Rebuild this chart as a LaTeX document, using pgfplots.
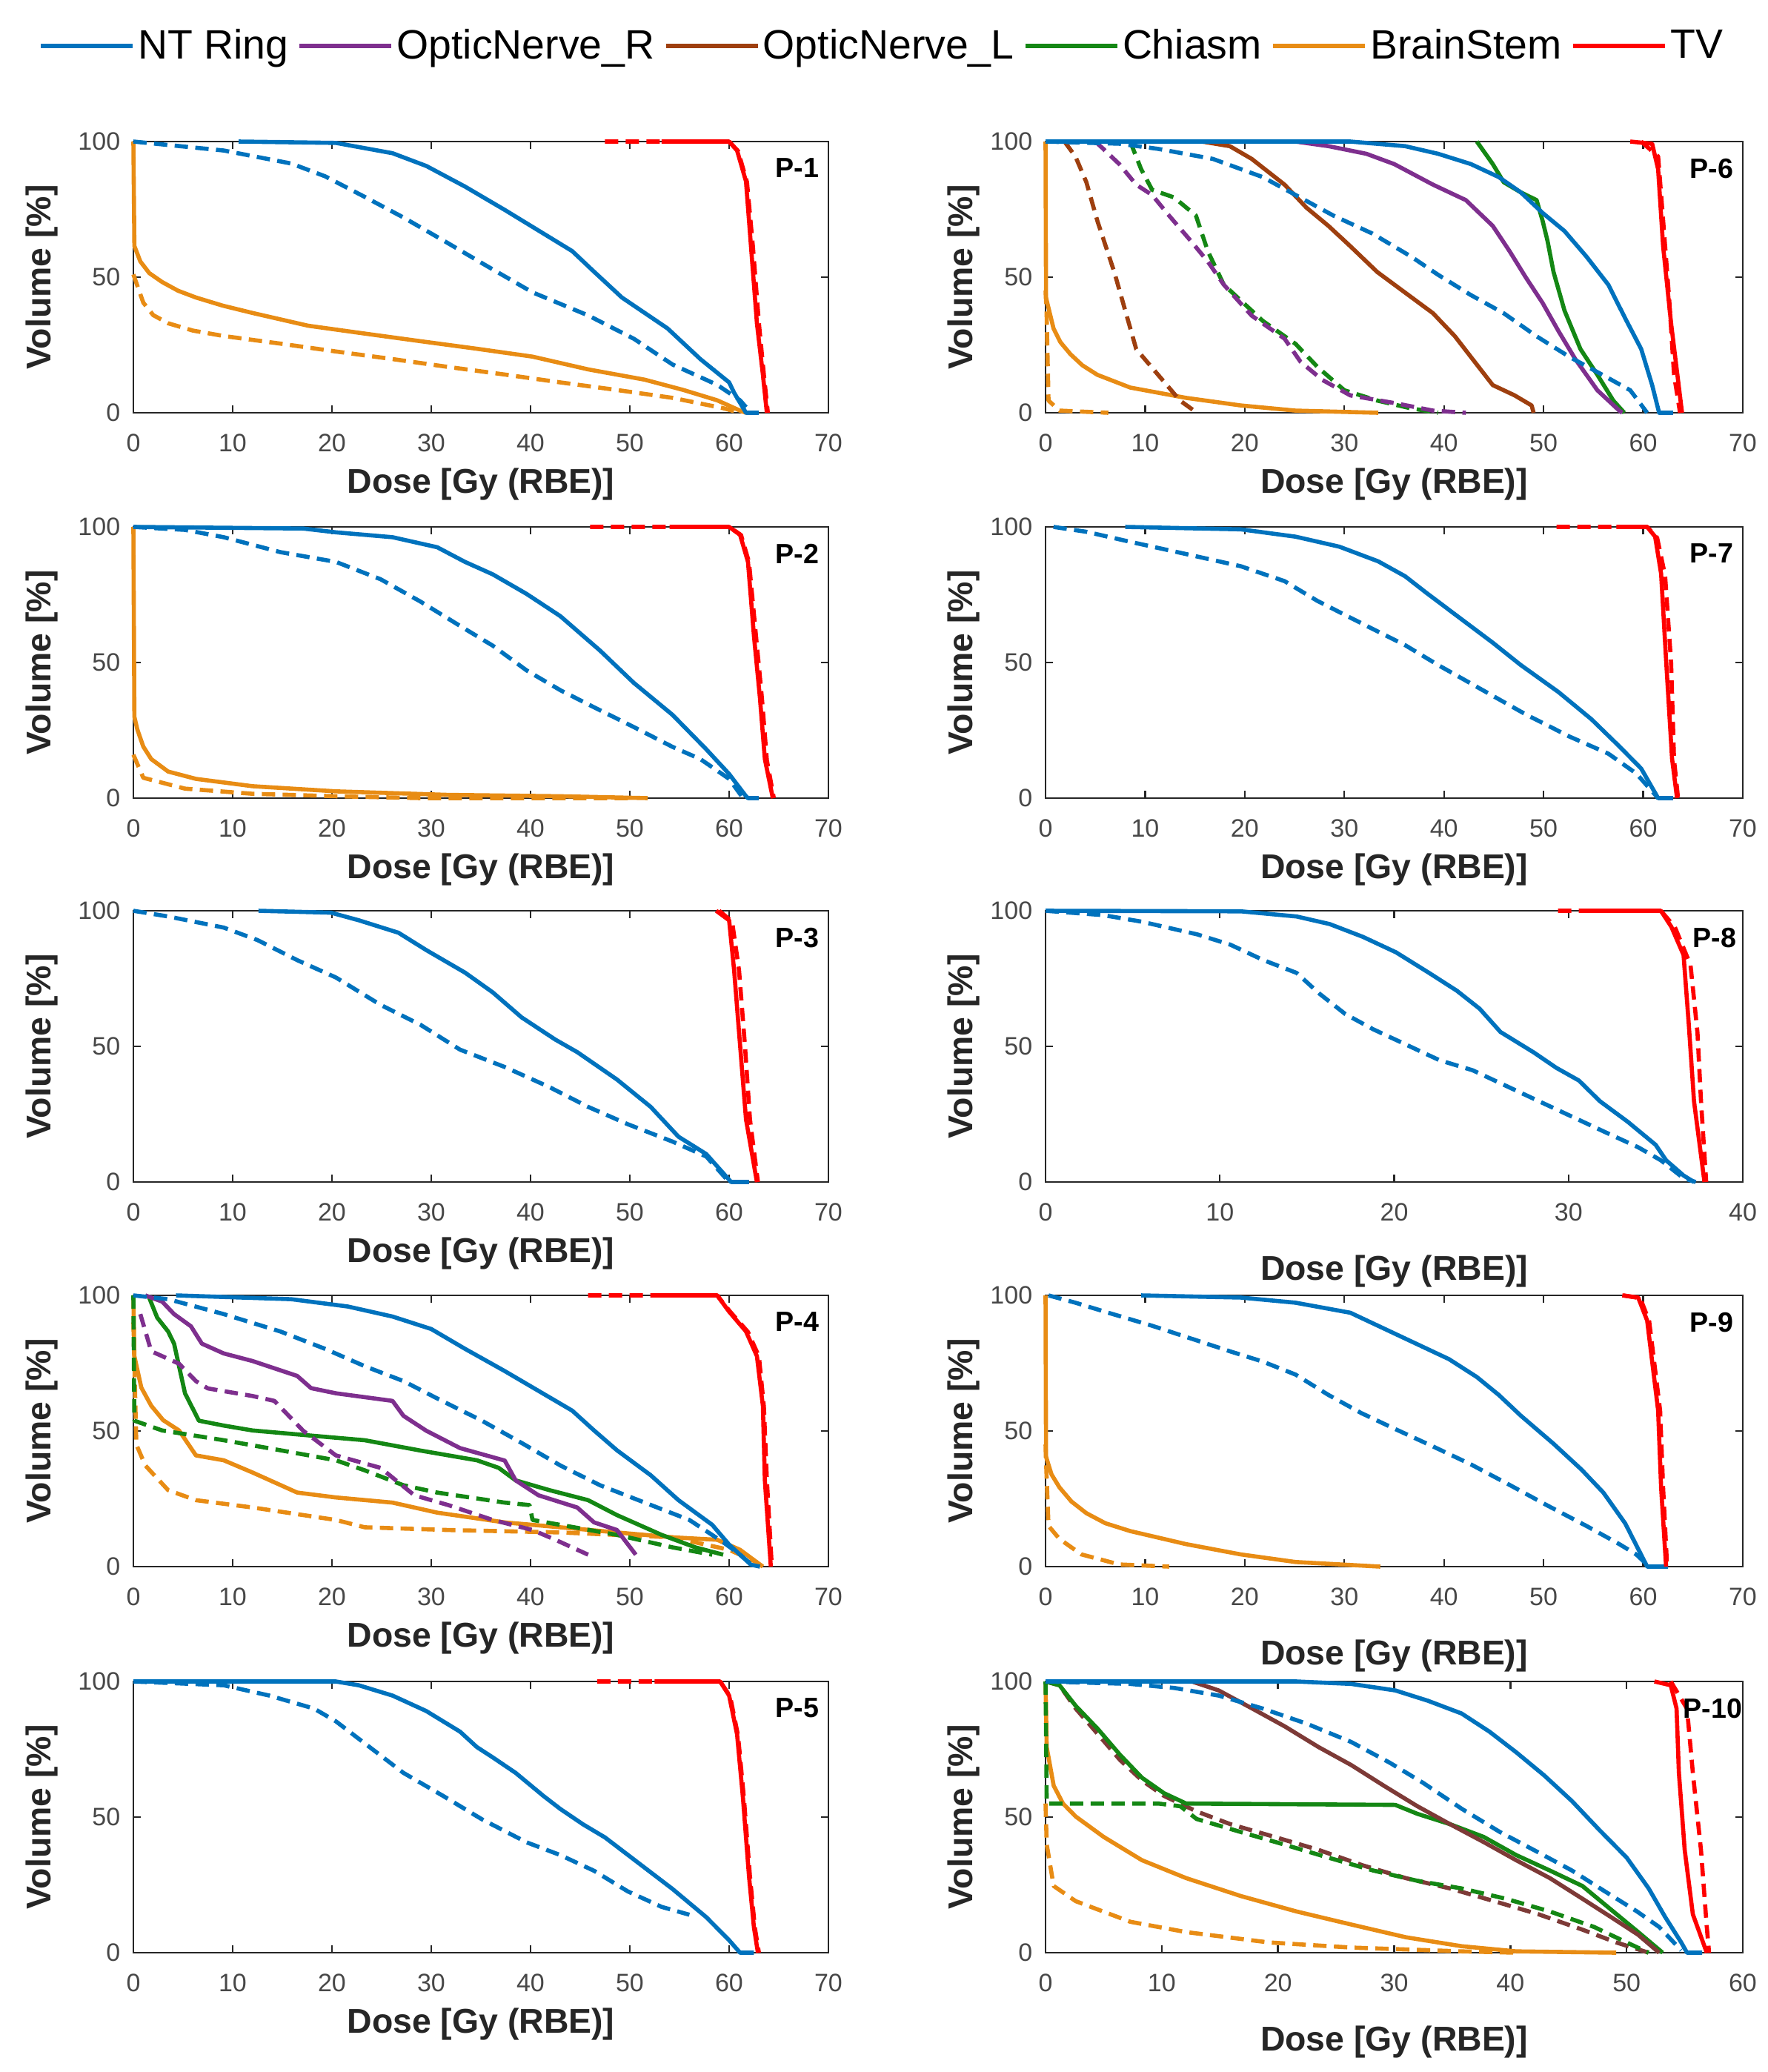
\documentclass[border=0pt]{standalone}
\usepackage{fontspec}
\setmainfont{Liberation Sans}
\usepackage{pgfplots}
\pgfplotsset{compat=1.18}

\definecolor{ntblue}{RGB}{0,114,189}
\definecolor{onrpurple}{RGB}{126,47,142}
\definecolor{onlbrown}{RGB}{158,63,15}
\definecolor{onlbrownb}{RGB}{125,58,55}
\definecolor{chiasmgreen}{RGB}{20,135,20}
\definecolor{bsorange}{RGB}{232,140,20}
\definecolor{tvred}{RGB}{255,0,0}
\definecolor{axgray}{RGB}{38,38,38}

\pgfplotsset{
  dv/.style={line width=1.4pt, line join=round},
  dsh/.style={dash pattern=on 4.5pt off 2.5pt},
  dvh/.style={
    scale only axis, height=91.5pt, anchor=south west,
    xmin=0, xmax=70, ymin=0, ymax=100, ytick={0,50,100}, xtick distance=10,
    clip=false, tick align=inside, major tick length=2.5pt,
    axis line style={axgray, line width=0.6pt},
    every tick/.style={axgray, line width=0.6pt},
    /pgf/number format/assume math mode=true,
    tick label style={font=\fontsize{8.5}{10}\selectfont, text=black!72},
    xticklabel style={anchor=north, inner sep=0pt, yshift=-7pt},
    yticklabel style={anchor=east, inner sep=0pt, xshift=-4.25pt},
    xlabel={Dose [Gy (RBE)]}, ylabel={Volume [\%]},
    label style={font=\bfseries\fontsize{11.6}{13}\selectfont, text=axgray},
    xlabel style={at={([yshift=-24pt]axis description cs:0.5,0)}, anchor=center},
  },
  leftcol/.style={dvh, width=234.5pt,
    ylabel style={at={([xshift=-30.75pt]axis description cs:0,0.5)}, anchor=center}},
  rightcol/.style={dvh, width=235.25pt,
    ylabel style={at={([xshift=-27.75pt]axis description cs:0,0.5)}, anchor=center}},
  lowlabel/.style={xlabel style={at={([yshift=-30pt]axis description cs:0.5,0)}, anchor=center}},
}
\newcommand{\plabel}[2][-3pt]{\node[anchor=north east, inner sep=0pt, xshift=#1, yshift=-5.5pt,
  font=\bfseries\fontsize{9.4}{11}\selectfont, text=black] at (rel axis cs:1,1) {#2};}

\begin{document}
\begin{tikzpicture}
\useasboundingbox (0pt,0pt) rectangle (596.5pt,-699pt);

% ---------------- P-1 ----------------
\begin{axis}[leftcol, at={(45pt,-139.25pt)},
  legend style={draw=none, fill=none, at={(axis description cs:1.075,1.352)}, anchor=center,
    legend columns=6, font=\fontsize{13.85}{16}\selectfont, text=black,
    /tikz/every odd column/.append style={column sep=1pt},
    /tikz/every even column/.append style={column sep=3pt},
    nodes={inner sep=0pt}},
  legend image code/.code={\draw[#1, line width=1.6pt] (0pt,0pt) -- (31pt,0pt);}]
\addlegendimage{ntblue}\addlegendentry{NT Ring}
\addlegendimage{onrpurple}\addlegendentry{OpticNerve\_R}
\addlegendimage{onlbrown}\addlegendentry{OpticNerve\_L}
\addlegendimage{chiasmgreen}\addlegendentry{Chiasm}
\addlegendimage{bsorange}\addlegendentry{BrainStem}
\addlegendimage{tvred}\addlegendentry{TV}
\addplot[bsorange,dv] coordinates {(0,100)(0.1,61.5)(0.7,55.8)(1.6,51.5)(2.9,48.2)(4.5,45)(6.3,42.5)(9,39.5)(12,36.8)(17.6,32.1)(23.3,29.2)(28.9,26.4)(34.6,23.6)(40.2,20.7)(45.8,16)(51.5,12.2)(55.4,8.4)(58.8,4.6)(61.1,0.8)(61.7,0)};
\addplot[bsorange,dv,dsh] coordinates {(0,51)(1,40.6)(2,36)(3.5,33)(6,30.3)(9.1,28.3)(14.8,25.5)(20.4,22.6)(26.1,19.8)(31.7,16.9)(37.4,14.1)(43,11.2)(48.7,8.4)(54.3,5.5)(59.4,1.7)(61.1,0)};
\addplot[ntblue,dv] coordinates {(10.6,100)(20.4,99.5)(26.1,95.7)(29.5,91)(33.4,83.4)(37.4,74.8)(40.8,67.2)(44.2,59.6)(46.4,52)(49.2,42.5)(53.8,31.1)(57.1,19.8)(60,11.2)(60.5,7.4)(61.7,0)(63,0)};
\addplot[ntblue,dv,dsh] coordinates {(0,100)(9.1,96.7)(15.9,91.9)(19.3,87.2)(23.3,79.6)(27.2,72)(31.7,62.5)(35.7,53.9)(40.2,44.4)(45.8,35.9)(50.4,27.3)(54.3,17.8)(58.8,10.3)(61.1,4.6)(62.2,0)};
\addplot[tvred,dv,dsh] coordinates {(47.5,100)(60,100)(60.9,96.5)(61.8,85)(62.4,61)(63,33)(63.5,14)(63.9,0)};
\addplot[tvred,dv] coordinates {(53.2,100)(60,100)(60.8,96.7)(61.7,85.3)(62.2,61.5)(62.8,33)(63.4,14.1)(63.8,0)};
\plabel{P-1}
\end{axis}

% ---------------- P-2 ----------------
\begin{axis}[leftcol, at={(45pt,-269.25pt)}]
\addplot[bsorange,dv] coordinates {(0,100)(0.1,30)(0.4,25.3)(1,19)(1.8,14.4)(3.5,9.8)(6.3,7.1)(12,4.4)(20.4,2.5)(31.7,1.2)(43,0.7)(51.8,0)};
\addplot[bsorange,dv,dsh] coordinates {(0,16)(1,7.5)(5.2,3.5)(12,1.6)(20.4,0.7)(28.9,0)(50,0)};
\addplot[ntblue,dv] coordinates {(0,100)(17.1,99.4)(20.4,98)(26.1,96.2)(30.6,92.5)(33.4,87.1)(36.2,82.5)(39.6,75.3)(43,67.1)(47,54.4)(50.4,42.5)(54.3,30.7)(57.7,18)(60,8.9)(61.7,0.7)(61.9,0)(63,0)};
\addplot[ntblue,dv,dsh] coordinates {(0,100)(5.2,98.9)(9.1,96.2)(14.8,90.7)(20.4,87.1)(24.9,80.7)(28.9,72.5)(32.9,63.5)(36.2,56.2)(39.6,47.1)(43,39.8)(46.4,33.5)(50.4,26.2)(54.3,18.9)(57.1,14.4)(60,7.1)(61.4,0)};
\addplot[tvred,dv,dsh] coordinates {(46,100)(60,100)(61.2,97)(62,87)(62.7,60)(63.3,37)(63.8,14)(64.5,0)};
\addplot[tvred,dv] coordinates {(54,100)(60,100)(61.1,97.1)(61.9,87.1)(62.5,59.8)(63.1,37.1)(63.6,14.4)(64.4,0)};
\plabel{P-2}
\end{axis}

% ---------------- P-3 ----------------
\begin{axis}[leftcol, at={(45pt,-398.75pt)}]
\addplot[ntblue,dv] coordinates {(12.6,100)(19.9,99.3)(22.7,96.5)(26.7,91.9)(29.5,85.5)(33.4,77.2)(36.2,69.9)(39.1,60.7)(42.5,52.5)(44.7,47.9)(48.7,37.8)(52.1,27.7)(54.9,16.7)(57.7,10.3)(60.2,0)(62,0)};
\addplot[ntblue,dv,dsh] coordinates {(0,100)(3.5,97.9)(9.1,93.8)(12.5,89.2)(16.5,81.8)(20.4,75.4)(24.9,65.3)(28.9,58)(32.9,48.8)(37.4,42.4)(41.9,35)(45.8,27.7)(49.8,21.3)(54.3,14.9)(57.7,9.4)(60,0)};
\addplot[tvred,dv,dsh] coordinates {(59,100)(60.3,96)(61,78)(61.6,50)(62.1,23)(62.9,0)};
\addplot[tvred,dv] coordinates {(58.7,100)(60,96.5)(60.5,78.2)(61.1,50.6)(61.7,23.1)(62.8,0)};
\plabel{P-3}
\end{axis}

% ---------------- P-4 ----------------
\begin{axis}[leftcol, at={(45pt,-528.5pt)}]
\addplot[bsorange,dv] coordinates {(0,100)(0.1,77.6)(0.8,66)(1.8,59.3)(3,54)(4.6,50.2)(6.3,41)(9.1,39.2)(12,34.7)(16.5,27.3)(20.4,25.5)(26.1,23.6)(30.6,19.9)(37.4,16.3)(43,14.5)(48.7,12.6)(54.3,10.8)(58.8,9.9)(61.1,6.2)(62.8,1.6)(63.4,0)};
\addplot[bsorange,dv,dsh] coordinates {(0,90)(0.3,45)(1.2,37.3)(3.5,28.2)(6.3,24.5)(12,21.8)(20.4,17.2)(23.3,14.5)(31.7,13.5)(43,12.6)(54.3,10.8)(60,6.2)(62.8,1.6)};
\addplot[chiasmgreen,dv] coordinates {(1.5,100)(2.4,91.8)(3.5,86.7)(4.1,82.2)(5.2,63.9)(6.6,53.8)(9.1,52)(12,50.2)(17.6,48.4)(23.3,46.6)(28.9,42.8)(34.6,39.2)(36.8,36.4)(38.5,31.8)(41.9,28.2)(45.8,24.5)(48.7,19)(53.2,11.7)(56.6,7.1)(59.4,4.4)};
\addplot[chiasmgreen,dv,dsh] coordinates {(0,100)(0.1,53.8)(2.9,50.2)(9.1,46.6)(14.8,42.9)(20.4,39.2)(23.3,35.5)(27.2,30)(30.6,27.3)(37.4,23.6)(39.9,22.7)(40.2,17.2)(43,15.4)(48.7,11.7)(54.3,7.1)(58.3,4.4)};
\addplot[onrpurple,dv] coordinates {(1.2,100)(2.9,97.7)(4.1,93.1)(5.8,88.6)(6.9,82.2)(9.1,78.6)(12,75.8)(16.5,70.3)(17.9,65.8)(20.4,63.9)(26.1,61.1)(27.2,55.6)(29.5,50.1)(32.9,43.7)(37.4,39.1)(38.5,31.8)(40.8,26.3)(44.7,21.8)(46.4,16.3)(48.7,13.5)(50.6,4.4)};
\addplot[onrpurple,dv,dsh] coordinates {(0.7,93.1)(1.8,79.4)(4.6,74.8)(6.3,68.4)(7.5,65.7)(12,62.9)(14.2,61.1)(17.1,50.1)(20.4,41)(24.9,36.4)(28.3,26.3)(31.7,22.7)(36.2,17.2)(40.2,13.5)(42.5,9.9)(45.8,4.4)};
\addplot[ntblue,dv] coordinates {(4.3,100)(15.9,98.6)(21.6,95.9)(26.1,92.2)(30,87.6)(33.4,80.3)(37.4,72.1)(40.8,64.8)(44.2,57.5)(46.4,50.2)(48.7,42.9)(52.1,33.7)(54.9,24.5)(58.3,15.4)(60,8.1)(62.2,0.7)(63.1,0)};
\addplot[ntblue,dv,dsh] coordinates {(0,100)(3.5,98.6)(9.1,93.1)(14.8,86.7)(19.3,80.3)(23.3,73.9)(27.2,68.4)(30.6,62)(35.1,53.8)(39.1,45.6)(43,37.3)(47,30)(51.5,23.6)(56,17.2)(59.4,9)(61.1,4.4)(62.5,0)};
\addplot[tvred,dv,dsh] coordinates {(45.8,100)(58.8,100)(60.1,94)(61.9,86.5)(63,77.5)(63.5,59)(63.8,32)(64.3,0)};
\addplot[tvred,dv] coordinates {(52.3,100)(58.8,100)(60,94)(61.7,86.7)(62.8,77.6)(63.4,59.3)(63.6,31.8)(64.2,0)};
\plabel{P-4}
\end{axis}

% ---------------- P-5 ----------------
\begin{axis}[leftcol, at={(45pt,-658.75pt)}]
\addplot[ntblue,dv] coordinates {(0,100)(20.4,100)(22.7,98.6)(26.1,94.8)(29.5,89.1)(32.9,81.5)(34.6,75.8)(36.2,72)(38.5,66.3)(41.3,57.8)(43,53)(45.3,47.3)(47.5,42.5)(50.9,33)(54.3,23.5)(57.7,13.1)(60,4.6)(61.1,0)(62.5,0)};
\addplot[ntblue,dv,dsh] coordinates {(0,100)(9.1,98.6)(13.7,94.8)(18.2,90)(20.4,85.3)(23.8,75.8)(27.2,66.3)(31.2,57.8)(35.1,49.2)(39.6,40.7)(43,36)(46.4,30.2)(49.8,22.6)(53.2,16.9)(56,14)};
\addplot[tvred,dv,dsh] coordinates {(46.7,100)(59.1,100)(60.1,94.5)(60.9,80)(61.5,56.5)(62.1,28)(62.6,9)(63,0)};
\addplot[tvred,dv] coordinates {(52.5,100)(59.1,100)(60,94.8)(60.8,80.5)(61.4,56.8)(62,28.3)(62.5,9.3)(62.9,0)};
\plabel{P-5}
\end{axis}

% ---------------- P-6 ----------------
\begin{axis}[rightcol, at={(352.75pt,-139.25pt)}]
\addplot[bsorange,dv] coordinates {(0,100)(0.05,42.4)(0.8,31.1)(1.5,26)(2.5,21.6)(3.7,17.5)(5.2,14)(8.5,9.3)(14.1,5.5)(19.6,2.7)(25.1,0.8)(33.4,0)};
\addplot[bsorange,dv,dsh] coordinates {(0,45)(0.1,37.7)(0.3,4.5)(1.4,0.8)(6.3,0)};
\addplot[onlbrown,dv] coordinates {(15.7,100)(18.5,98.3)(20.7,93.6)(24,84.1)(26.2,75.6)(28.4,68.9)(30.6,61.4)(33.3,51.9)(36.1,44.3)(38.9,36.7)(41.1,28.2)(42.7,20.6)(44.9,10.2)(47.1,6.4)(48.8,2.7)(49,0)};
\addplot[onlbrown,dv,dsh] coordinates {(1.9,100)(3,94.5)(4.1,85)(5.2,70.8)(6.9,51.9)(8,37.7)(9.1,23.5)(11.3,14)(13.5,4.5)(15.2,0)};
\addplot[chiasmgreen,dv] coordinates {(43.3,100)(44.9,91.7)(46,85)(47.7,81.3)(49.3,78.4)(49.9,70.8)(50.4,63.3)(51,51.9)(52.1,37.7)(53.7,23.5)(55.4,14)(57,4.5)(58.1,0)};
\addplot[chiasmgreen,dv,dsh] coordinates {(8.5,100)(9.6,89.8)(10.7,82.2)(12.9,79.4)(15.1,72.7)(16.3,59.5)(17.9,47.2)(21.8,33.9)(25.1,25.4)(27.3,16.9)(30,8.3)(33.3,4.5)(36.6,1.7)(39.4,0)};
\addplot[onrpurple,dv] coordinates {(25.1,100)(28.4,98.3)(32.2,95.5)(35,91.7)(38.9,84.1)(42.2,78.4)(44.9,68.9)(46.6,59.5)(48.2,50)(49.9,40.5)(51.5,30.1)(53.2,19.7)(55.4,8.3)(57.6,0.8)(57.9,0)};
\addplot[onrpurple,dv,dsh] coordinates {(5,100)(5.8,97.3)(7.4,91.7)(9.1,84.1)(10.7,80.3)(12.4,72.7)(14.6,63.3)(16.3,55.7)(17.9,47.2)(20.7,35.8)(24,27.3)(25.6,18.8)(27.8,12.1)(30.6,6.4)(35,3.6)(38.9,0.8)(42.2,0)};
\addplot[ntblue,dv] coordinates {(0,100)(30.6,100)(36.1,98.3)(39.4,95.5)(42.7,91.7)(45.5,86.9)(47.7,81.3)(49.9,73.7)(52.1,67)(54.3,57.6)(56.5,47.2)(58.2,34.8)(59.8,23.5)(60.9,10.2)(61.6,0)(63,0)};
\addplot[ntblue,dv,dsh] coordinates {(0,100)(7.4,99.2)(11.3,97.3)(16.8,93.6)(21.8,86.9)(25.1,80.3)(28.9,72.7)(32.8,66.1)(36.7,57.6)(39.4,50.9)(42.7,43.4)(46,36.7)(49.3,28.2)(52.6,20.6)(55.9,14)(58.7,8.3)(60.4,0)};
\addplot[tvred,dv,dsh] coordinates {(59.8,100)(61.5,94.5)(62,71)(62.6,42.4)(63.1,14)(63.7,0)};
\addplot[tvred,dv] coordinates {(58.7,100)(60.9,99.2)(61.5,89.8)(62,61.4)(62.8,33)(63.9,0)};
\plabel{P-6}
\end{axis}

% ---------------- P-7 ----------------
\begin{axis}[rightcol, at={(352.75pt,-269.25pt)}]
\addplot[ntblue,dv] coordinates {(8,100)(19.6,99.1)(25.1,96.4)(29.5,92.7)(33.4,87.3)(36.1,81.8)(38.3,75.5)(41.6,66.4)(44.9,57.3)(47.7,49.1)(51.5,39.1)(54.8,29.1)(57.6,19.1)(59.8,10.9)(61.5,0)(63,0)};
\addplot[ntblue,dv,dsh] coordinates {(0.8,100)(4.1,98.2)(8.5,94.5)(14.1,90)(19.6,85.5)(24,80)(27.3,72.7)(31.7,64.5)(36.1,56.4)(39.4,49.1)(43.8,40)(48.2,30.9)(52.6,22.7)(56.5,16.4)(59.3,9.1)(61.5,0)};
\addplot[tvred,dv,dsh] coordinates {(51.3,100)(60.4,100)(61.4,96)(62.2,82)(62.8,50)(63.1,14)(63.5,0)};
\addplot[tvred,dv] coordinates {(57.3,100)(60.4,100)(61.2,96.4)(61.8,82.7)(62.3,50.9)(62.9,14.5)(63.4,0)};
\plabel{P-7}
\end{axis}

% ---------------- P-8 ----------------
\begin{axis}[rightcol, lowlabel, at={(352.75pt,-398.75pt)}, xmax=40]
\addplot[ntblue,dv] coordinates {(0,100)(11.2,99.8)(14.4,97.9)(16.3,95.1)(18.2,90.4)(20.1,84.7)(22,77.1)(23.6,70.5)(24.9,63.9)(26.1,55.3)(28,47.8)(29.3,42.1)(30.6,37.4)(31.8,29.8)(33.4,22.2)(35,13.7)(35.6,8)(36.6,2.4)(37.2,0)};
\addplot[ntblue,dv,dsh] coordinates {(0,100)(3.3,98.4)(5.5,96)(8.7,91.3)(10.6,87.5)(12.5,81.8)(14.4,77.1)(15.7,69.5)(17.2,61.9)(18.8,56.3)(20.7,50.6)(22.6,44.9)(24.5,41.2)(26.4,35.5)(28.3,29.8)(30.2,24.1)(32.1,18.4)(34,12.8)(35.3,8)(36.6,1.4)(37.3,0)};
\addplot[tvred,dv,dsh] coordinates {(29.4,100)(35.3,100)(36.1,94)(37,80)(37.4,55)(37.6,30)(37.9,0)};
\addplot[tvred,dv] coordinates {(31.3,100)(35.3,100)(35.9,94.1)(36.6,83.7)(36.9,58.2)(37.2,29.8)(37.8,0)};
\plabel[-2pt]{P-8}
\end{axis}

% ---------------- P-9 ----------------
\begin{axis}[rightcol, lowlabel, at={(352.75pt,-528.5pt)}]
\addplot[bsorange,dv] coordinates {(0,100)(0.05,40.5)(0.6,34)(1.4,29.2)(2.6,24)(4.1,19.7)(6,16)(8.5,13.1)(14.1,8.3)(19.6,4.5)(25.1,1.7)(33.6,0)};
\addplot[bsorange,dv,dsh] coordinates {(0,45)(0.05,38.6)(0.3,15)(1.4,10.2)(3.6,4.5)(7.4,0.8)(12.4,0)};
\addplot[ntblue,dv] coordinates {(9.6,100)(19.6,99.2)(25.1,97.3)(30.6,93.6)(33.9,87.9)(37.2,82.2)(40.5,76.5)(43.3,69.9)(45.5,63.3)(47.7,55.7)(51,45.3)(53.8,35.8)(56,27.3)(58.2,15.9)(60.4,0)(62.5,0)};
\addplot[ntblue,dv,dsh] coordinates {(0.3,100)(3,97.3)(6.3,93.6)(10.7,88.8)(14.6,84.1)(18.5,79.4)(21.8,75.6)(25.1,70.8)(28.4,63.3)(31.7,56.6)(35,50.9)(38.9,44.3)(42.7,37.7)(46.6,30.1)(50.4,22.5)(54.3,15)(57.6,8.3)(59.3,4.5)(60.6,0)};
\addplot[tvred,dv,dsh] coordinates {(58,100)(59.7,99)(60.6,90.5)(61.7,57.5)(62,29)(62.4,0)};
\addplot[tvred,dv] coordinates {(57.9,100)(59.5,99.2)(60.4,90.7)(61.5,57.6)(61.8,29.2)(62.3,0)};
\plabel{P-9}
\end{axis}

% ---------------- P-10 ----------------
\begin{axis}[rightcol, lowlabel, at={(352.75pt,-658.75pt)}, xmax=60]
\addplot[bsorange,dv] coordinates {(0,100)(0.1,75.8)(0.7,61.6)(1.5,55)(2.6,50.2)(5,42.7)(8.3,34.1)(12.1,27.5)(16.8,20.9)(21.6,15.2)(26.3,10.4)(31,5.7)(35.8,2.4)(40.5,0.5)(49.1,0)};
\addplot[bsorange,dv,dsh] coordinates {(0,55)(0.1,40)(0.7,24.6)(2.6,19)(7.3,11.4)(12.1,7.6)(19.2,3.8)(26.3,1.9)(35.8,0.5)(40.5,0)};
\addplot[onlbrownb,dv,dsh] coordinates {(0,100)(1.2,98.6)(2.6,90)(4.5,80.6)(6.4,71.1)(8.3,63.5)(10.2,57.8)(13,52.1)(15.9,47.4)(19.7,42.7)(23.5,37.9)(27.3,32.2)(31,27.5)(34.8,23.7)(38.6,19)(42.4,14.2)(46.2,8.5)(49.1,3.8)(51.9,0)};
\addplot[chiasmgreen,dv,dsh] coordinates {(0,100)(0.1,55)(9.7,55)(11.6,54)(13,49.3)(16.8,44.5)(20.6,39.8)(24.3,35.1)(28.2,30.3)(32,26.5)(35.8,23.7)(39.6,19.9)(43.4,15.2)(47.2,9.5)(50,3.8)(51.9,0)};
\addplot[chiasmgreen,dv] coordinates {(0,100)(1.2,98.6)(2.6,91)(4.5,82.5)(6.4,73)(8.3,64.5)(10.2,58.8)(12.1,55)(30.1,54.5)(32,51.2)(34.8,47.4)(37.7,42.7)(40.5,36)(43.4,30.3)(46.2,24.6)(48.6,16.1)(51,7.6)(53.1,0)};
\addplot[onlbrownb,dv] coordinates {(12.6,100)(14.9,96.7)(17.8,90)(20.6,83.4)(23.5,75.8)(26.3,69.2)(29.1,61.6)(32,54)(34.8,47.4)(37.7,40.8)(40.5,34.1)(43.4,27.5)(46.2,19.9)(48.6,13.3)(51,6.6)(52.8,0)};
\addplot[ntblue,dv] coordinates {(0,100)(21.6,100)(26.3,99.1)(30.1,96.7)(32.9,92.9)(35.8,88.2)(38.2,81.5)(40.5,73.9)(42.9,65.4)(45.3,55.9)(47.6,45.5)(50,35.1)(51.9,23.7)(53.3,13.3)(54.7,3.8)(55.2,0)(56.5,0)};
\addplot[ntblue,dv,dsh] coordinates {(0,100)(7.3,99.1)(11.1,97.6)(14.9,94.8)(18.7,90)(22.5,84.4)(26.3,77.7)(29.6,70.1)(32.5,62.6)(35.8,53.1)(39.1,44.5)(42.4,37)(45.3,30.3)(48.1,22.7)(50.9,15.2)(52.8,9.5)(54.7,0.9)};
\addplot[tvred,dv,dsh] coordinates {(53.8,100)(55.2,90)(55.7,66.4)(56.4,37.9)(56.9,9.5)(57.1,0)};
\addplot[tvred,dv] coordinates {(52.4,100)(53.8,98.6)(54.3,90)(54.5,66.4)(55,37.9)(55.7,14.2)(56.9,0)};
\plabel[0pt]{P-10}
\end{axis}
\end{tikzpicture}
\end{document}
